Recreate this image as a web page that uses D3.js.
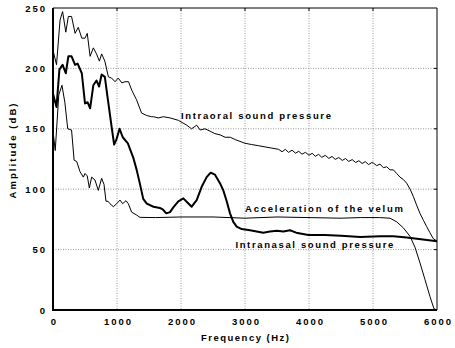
<!DOCTYPE html>
<html>
<head>
<meta charset="utf-8">
<script src="https://cdn.jsdelivr.net/npm/d3@7"></script>
<style>
  body { margin: 0; background: #fff; }
  svg { display: block; }
  text { font-family: "Liberation Sans", Arial, sans-serif; font-weight: bold; fill: #000; }
  .grid line { stroke: #999; stroke-dasharray: 1,1.5; stroke-width: 1; }
</style>
</head>
<body>
<svg></svg>
<script>
var width = 455,
    height = 348,
    margin = { top: 8, right: 18, bottom: 38, left: 53 };

// frequency ticks and amplitude ticks
var xTicks = [0, 1000, 2000, 3000, 4000, 5000, 6000];
var yTicks = [0, 50, 100, 150, 200, 250];

// intraoral sound pressure (thin, top)
var oralFreq = [0, 55, 110, 150, 200, 240, 290, 345, 395, 450, 500, 535, 580, 630, 680, 725, 760, 810,
  865, 915, 970, 1020, 1075, 1125, 1180, 1230, 1305, 1385, 1465, 1540, 1570, 1645, 1725, 1830, 1960,
  2090, 2165, 2245, 2300, 2375, 2455, 2530, 2610, 2690, 2770, 2850, 3000, 3100, 3210, 3420, 3525,
  3580, 3630, 3680, 3735, 3790, 3840, 3890, 3945, 4000, 4050, 4100, 4150, 4200, 4255, 4310, 4360,
  4410, 4465, 4520, 4570, 4620, 4675, 4730, 4780, 4830, 4880, 4930, 4980, 5005, 5057, 5110, 5162,
  5214, 5266, 5318, 5370, 5422, 5475, 5526, 5580, 5630, 5680, 5734, 5790, 5839, 5890, 5943, 6000];
var oral = [215, 203, 240, 247, 230, 243, 243, 229, 234, 225, 225, 229, 210, 217, 212, 206, 212, 206,
  193, 192, 189, 192, 188, 189, 189, 182, 174, 163, 161, 160, 160, 159, 160, 159, 157,
  153, 150, 153, 149, 150, 148, 146, 145, 143, 143, 141, 138, 137, 136, 134, 133,
  131, 133, 130.5, 132.3, 129.8, 131.4, 129, 130.5, 128.1, 129.7, 127.2, 128.9, 126.4, 128, 125.5, 127.1,
  124.7, 126.2, 123.8, 125.4, 123, 124.5, 122.1, 123.6, 121.3, 122.8, 120.4, 122, 121.7, 119.5, 120.8, 117.8,
  118.6, 116, 116, 113, 110, 108, 105, 100, 94, 87, 80, 74, 69, 64, 59, 57];

// intranasal sound pressure (bold)
var nasalFreq = [0, 55, 100, 150, 200, 240, 290, 345, 385, 450, 500, 540, 580, 630, 680, 720, 760, 810,
  850, 915, 955, 990, 1040, 1090, 1170, 1255, 1307, 1360, 1410, 1465, 1570, 1670, 1720, 1770, 1828,
  1880, 1958, 2036, 2100, 2167, 2245, 2323, 2401, 2463, 2531, 2609, 2661, 2714, 2766, 2817, 2870,
  2948, 3078, 3182, 3286, 3390, 3495, 3600, 3703, 3800, 3990, 4250, 4500, 4800, 5110, 5318, 5526,
  5750, 6000];
var nasal = [179, 168, 199, 203, 196, 210, 210, 203, 204, 196, 171, 172, 167, 186, 190, 185, 195, 193,
  177, 152, 137, 141, 150, 143, 138, 126, 116, 104, 92, 88, 85.5, 84.5, 83, 80, 81,
  85, 90, 92.4, 89, 85.5, 91, 102, 110, 113.7, 112, 105, 99, 90, 80, 73, 69,
  67, 66, 65, 64, 65, 65.6, 65, 66, 64, 62, 62, 61.5, 60.5, 61, 61, 60,
  58.5, 57];

// acceleration of the velum (thin, bottom)
var velumFreq = [0, 35, 90, 140, 185, 230, 290, 330, 370, 422, 474, 500, 535, 568, 604, 656, 708, 760,
  797, 828, 860, 890, 943, 995, 1047, 1089, 1141, 1177, 1229, 1307, 1359, 1600, 2000, 2500, 3000,
  3500, 4000, 4500, 4800, 5100, 5266, 5370, 5474, 5578, 5656, 5734, 5813, 5891, 5953, 6000];
var velum = [148, 132, 178, 186, 172, 150, 149, 124, 123, 114.5, 110, 113, 111, 101, 110, 107.6, 99, 109,
  104, 90, 90, 88, 85.5, 88, 91, 88, 90.5, 88, 81, 78.6, 76.7, 76.5, 77, 77, 76,
  77, 76.5, 76, 76.5, 76.5, 76, 73, 68, 61, 52, 39, 25, 11, 1, 0];

var labels = ["Intraoral sound pressure", "Acceleration of the velum", "Intranasal sound pressure"];

var svg = d3.select("svg")
    .attr("width", width)
    .attr("height", height);

var w = width - margin.left - margin.right,
    h = height - margin.top - margin.bottom;

var x = d3.scaleLinear().domain([0, 6000]).range([0, w]);
var y = d3.scaleLinear().domain([0, 250]).range([h, 0]);

var g = svg.append("g")
    .attr("transform", "translate(" + [margin.left, margin.top] + ")");

g.append("clipPath").attr("id", "clip")
  .append("rect").attr("width", w).attr("height", h);

// dotted grid
var grid = g.append("g").attr("class", "grid");
grid.selectAll(".gx").data(xTicks.slice(1, -1)).enter().append("line")
    .attr("x1", d => x(d)).attr("x2", d => x(d))
    .attr("y1", 0).attr("y2", h);
grid.selectAll(".gy").data(yTicks.slice(1, -1)).enter().append("line")
    .attr("x1", 0).attr("x2", w)
    .attr("y1", d => y(d)).attr("y2", d => y(d));

// axes
g.append("g")
    .attr("transform", "translate(0," + h + ")")
    .call(d3.axisBottom(x).tickValues(xTicks).tickSize(0).tickPadding(8).tickFormat(d3.format("d")))
    .call(a => a.select(".domain").remove())
    .selectAll("text")
    .style("font-size", "9.5px")
    .style("letter-spacing", "2px")
    .attr("dx", "1px");

g.append("g")
    .call(d3.axisLeft(y).tickValues(yTicks).tickSize(0).tickPadding(6))
    .call(a => a.select(".domain").remove())
    .selectAll("text")
    .style("font-size", "9.5px")
    .style("letter-spacing", "2px");

// inward ticks on top and right
g.append("g").selectAll("line").data(xTicks.slice(1, -1)).enter().append("line")
    .attr("x1", d => x(d)).attr("x2", d => x(d))
    .attr("y1", 0).attr("y2", 3).attr("stroke", "#000");
g.append("g").selectAll("line").data(yTicks.slice(1, -1)).enter().append("line")
    .attr("x1", w - 3).attr("x2", w)
    .attr("y1", d => y(d)).attr("y2", d => y(d)).attr("stroke", "#000");

var line = d3.line()
    .x(d => x(d[0]))
    .y(d => y(d[1]));

var plot = g.append("g").attr("clip-path", "url(#clip)");

plot.append("path")
    .datum(d3.zip(oralFreq, oral))
    .attr("fill", "none").attr("stroke", "#000").attr("stroke-width", 1)
    .attr("d", line);

plot.append("path")
    .datum(d3.zip(velumFreq, velum))
    .attr("fill", "none").attr("stroke", "#000").attr("stroke-width", 1)
    .attr("d", line);

plot.append("path")
    .datum(d3.zip(nasalFreq, nasal))
    .attr("fill", "none").attr("stroke", "#000").attr("stroke-width", 2)
    .attr("stroke-linejoin", "round")
    .attr("d", line);

// frame
g.append("path")
    .attr("d", "M0,0H" + w + "V" + h)
    .attr("fill", "none").attr("stroke", "#000").attr("stroke-width", 1);
g.append("path")
    .attr("d", "M0,0V" + h + "H" + w)
    .attr("fill", "none").attr("stroke", "#000").attr("stroke-width", 2);

// curve labels
var labelPos = [[2000, 161, 150], [3000, 84, 158], [2850, 54, 158]];
g.selectAll(".lbl").data(labels).enter().append("text")
    .attr("class", "lbl")
    .attr("x", (d, i) => x(labelPos[i][0]))
    .attr("y", (d, i) => y(labelPos[i][1]))
    .attr("dy", "0.35em")
    .attr("textLength", (d, i) => labelPos[i][2])
    .attr("lengthAdjust", "spacing")
    .style("font-size", "9.5px")
    .text(d => d);

// axis titles
svg.append("text")
    .attr("x", margin.left + w / 2)
    .attr("y", 338)
    .attr("dy", "0.35em")
    .attr("text-anchor", "middle")
    .attr("textLength", 88)
    .attr("lengthAdjust", "spacing")
    .style("font-size", "9.5px")
    .text("Frequency (Hz)");

svg.append("text")
    .attr("transform", "translate(13,151) rotate(-90)")
    .attr("text-anchor", "middle")
    .attr("dy", "0.35em")
    .attr("textLength", 95)
    .attr("lengthAdjust", "spacing")
    .style("font-size", "9.5px")
    .text("Amplitude (dB)");
</script>
</body>
</html>
